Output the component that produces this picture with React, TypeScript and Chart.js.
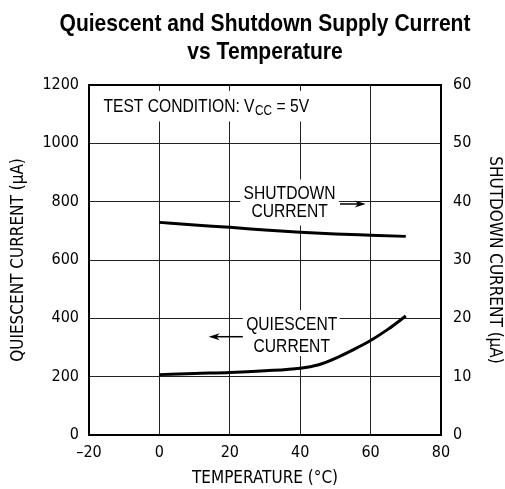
import React, { useEffect, useRef } from "react";
import { Chart, registerables } from "chart.js";

Chart.register(...registerables);

// ---- data ----
const quiescentTemps = [0, 10, 20, 30, 40, 45, 50, 55, 60, 65, 70];
const quiescentCurrent = [207, 211, 214, 220, 229, 240, 263, 292, 324, 363, 408];
const shutdownTemps = [0, 10, 20, 30, 40, 50, 60, 70];
const shutdownCurrent = [36.45, 36.0, 35.6, 35.15, 34.75, 34.45, 34.25, 34.05];
const xTickValues = [-20, 0, 20, 40, 60, 80];
const titleLines = ["Quiescent and Shutdown Supply Current", "vs Temperature"];

// ---- annotation layout (in data units of x / left-y scales) ----
const shutdownLabel = {
  lines: ["SHUTDOWN", "CURRENT"],
  x: 37,
  ys: [826, 764],
  box: [23, 51, 718, 876],
  arrow: [51.3, 58.6, 792],
};
const quiescentLabel = {
  lines: ["QUIESCENT", "CURRENT"],
  x: 37.6,
  ys: [378, 303],
  box: [23.7, 51.2, 271, 428],
  arrow: [23.7, 14.0, 337],
};
const testCondition = { x: -15.9, y: 1125, box: [-18, 43, 1075, 1180] };

const AXIS_FONT = '"DejaVu Sans Condensed", "Liberation Sans Narrow", sans-serif';
const TEXT_FONT = '"Liberation Sans", Arial, sans-serif';
const TEXT_SX = 0.845;

function condensedText(
  ctx: CanvasRenderingContext2D,
  text: string,
  x: number,
  y: number,
  align: "left" | "center",
  font: string,
  sx: number
) {
  ctx.save();
  ctx.font = font;
  ctx.textBaseline = "middle";
  ctx.textAlign = "left";
  const w = ctx.measureText(text).width * sx;
  const left = align === "center" ? x - w / 2 : x;
  ctx.translate(left, y);
  ctx.scale(sx, 1);
  ctx.fillText(text, 0, 0);
  ctx.restore();
  return w;
}

function drawArrow(ctx: CanvasRenderingContext2D, x0: number, x1: number, y: number) {
  const dir = x1 > x0 ? 1 : -1;
  const headLen = 11;
  ctx.beginPath();
  ctx.moveTo(x0, y);
  ctx.lineTo(x1 - dir * headLen * 0.6, y);
  ctx.lineWidth = 1.5;
  ctx.strokeStyle = "#000";
  ctx.stroke();
  ctx.beginPath();
  ctx.moveTo(x1, y);
  ctx.lineTo(x1 - dir * headLen, y - 3.5);
  ctx.lineTo(x1 - dir * headLen * 0.7, y);
  ctx.lineTo(x1 - dir * headLen, y + 3.5);
  ctx.closePath();
  ctx.fillStyle = "#000";
  ctx.fill();
}

const annotationPlugin = {
  id: "annotations",
  beforeDatasetsDraw(chart: any) {
    const { ctx, scales } = chart;
    const x = scales.x;
    const y = scales.y;
    ctx.save();
    ctx.fillStyle = "#fff";
    for (const b of [shutdownLabel.box, quiescentLabel.box, testCondition.box]) {
      const px0 = x.getPixelForValue(b[0]);
      const px1 = x.getPixelForValue(b[1]);
      const py0 = y.getPixelForValue(b[3]);
      const py1 = y.getPixelForValue(b[2]);
      ctx.fillRect(px0, py0, px1 - px0, py1 - py0);
    }
    ctx.restore();
  },
  afterDatasetsDraw(chart: any) {
    const { ctx, scales, chartArea } = chart;
    const x = scales.x;
    const y = scales.y;
    ctx.save();
    ctx.fillStyle = "#000";
    const f = `18.5px ${TEXT_FONT}`;
    for (const lab of [shutdownLabel, quiescentLabel]) {
      lab.lines.forEach((t, i) => {
        condensedText(ctx, t, x.getPixelForValue(lab.x), y.getPixelForValue(lab.ys[i]), "center", f, TEXT_SX);
      });
      drawArrow(
        ctx,
        x.getPixelForValue(lab.arrow[0]),
        x.getPixelForValue(lab.arrow[1]),
        y.getPixelForValue(lab.arrow[2])
      );
    }
    // test condition text with subscript
    let tx = x.getPixelForValue(testCondition.x);
    const ty = y.getPixelForValue(testCondition.y);
    tx += condensedText(ctx, "TEST CONDITION: V", tx, ty, "left", f, TEXT_SX);
    tx += condensedText(ctx, "CC", tx + 0.5, ty + 4, "left", `14px ${TEXT_FONT}`, TEXT_SX) + 0.5;
    condensedText(ctx, " = 5V", tx, ty, "left", f, TEXT_SX);

    // plot frame
    ctx.lineWidth = 2;
    ctx.strokeStyle = "#000";
    ctx.strokeRect(
      chartArea.left,
      chartArea.top,
      chartArea.right - chartArea.left,
      chartArea.bottom - chartArea.top
    );

    // title, centred over the plot area
    const cx = (chartArea.left + chartArea.right) / 2;
    const tf = `bold 24px ${TEXT_FONT}`;
    ctx.font = tf;
    const sxTitle = 411 / ctx.measureText(titleLines[0]).width;
    condensedText(ctx, titleLines[0], cx, 24, "center", tf, sxTitle);
    condensedText(ctx, titleLines[1], cx, 52, "center", tf, sxTitle);
    ctx.restore();
  },
};

export default function App() {
  const canvasRef = useRef<HTMLCanvasElement | null>(null);

  useEffect(() => {
    document.body.style.margin = "0";
    const canvas = canvasRef.current;
    if (!canvas) return;
    const chart = new Chart(canvas, {
      type: "line",
      data: {
        datasets: [
          {
            label: "Shutdown Current",
            data: shutdownTemps.map((t, i) => ({ x: t, y: shutdownCurrent[i] })),
            yAxisID: "y1",
            borderColor: "#000",
            borderWidth: 3,
            pointRadius: 0,
            cubicInterpolationMode: "monotone",
            fill: false,
          },
          {
            label: "Quiescent Current",
            data: quiescentTemps.map((t, i) => ({ x: t, y: quiescentCurrent[i] })),
            yAxisID: "y",
            borderColor: "#000",
            borderWidth: 3,
            pointRadius: 0,
            cubicInterpolationMode: "monotone",
            fill: false,
          },
        ],
      },
      options: {
        responsive: false,
        animation: false,
        devicePixelRatio: 1,
        layout: { padding: { top: 85 } },
        plugins: {
          legend: { display: false },
          tooltip: { enabled: false },
          title: { display: false },
        },
        scales: {
          x: {
            type: "linear",
            min: -20,
            max: 80,
            afterBuildTicks: (scale: any) => {
              scale.ticks = xTickValues.map((v) => ({ value: v }));
            },
            afterFit: (scale: any) => {
              scale.height = 54;
            },
            ticks: {
              color: "#000",
              padding: 8,
              font: { family: AXIS_FONT, size: 16 },
              callback: (v: any) => (Number(v) < 0 ? "\u2013" + Math.abs(Number(v)) : String(v)),
              maxRotation: 0,
            },
            grid: { color: "#222", lineWidth: 1, drawTicks: false },
            border: { display: false },
            title: {
              display: true,
              text: "TEMPERATURE (°C)",
              color: "#000",
              font: { family: AXIS_FONT, size: 17 },
              padding: 0,
            },
          },
          y: {
            type: "linear",
            position: "left",
            min: 0,
            max: 1200,
            ticks: {
              stepSize: 200,
              color: "#000",
              padding: 10,
              font: { family: AXIS_FONT, size: 16 },
              callback: (v: any) => String(v),
            },
            afterFit: (scale: any) => {
              scale.width = 89;
            },
            grid: { color: "#222", lineWidth: 1, drawTicks: false },
            border: { display: false },
            title: {
              display: true,
              text: "QUIESCENT CURRENT (µA)",
              color: "#000",
              font: { family: AXIS_FONT, size: 17 },
              padding: 8,
            },
          },
          y1: {
            type: "linear",
            position: "right",
            min: 0,
            max: 60,
            ticks: {
              stepSize: 10,
              color: "#000",
              padding: 12,
              font: { family: AXIS_FONT, size: 16 },
              callback: (v: any) => String(v),
            },
            afterFit: (scale: any) => {
              scale.width = 64;
            },
            grid: { drawOnChartArea: false, drawTicks: false },
            border: { display: false },
            title: {
              display: true,
              text: "SHUTDOWN CURRENT (µA)",
              color: "#000",
              font: { family: AXIS_FONT, size: 17 },
              padding: 0,
            },
          },
        },
      },
      plugins: [annotationPlugin],
    } as any);
    return () => chart.destroy();
  }, []);

  return (
    <div style={{ width: 505, height: 489 }}>
      <canvas ref={canvasRef} width={505} height={489} style={{ display: "block" }} />
    </div>
  );
}
